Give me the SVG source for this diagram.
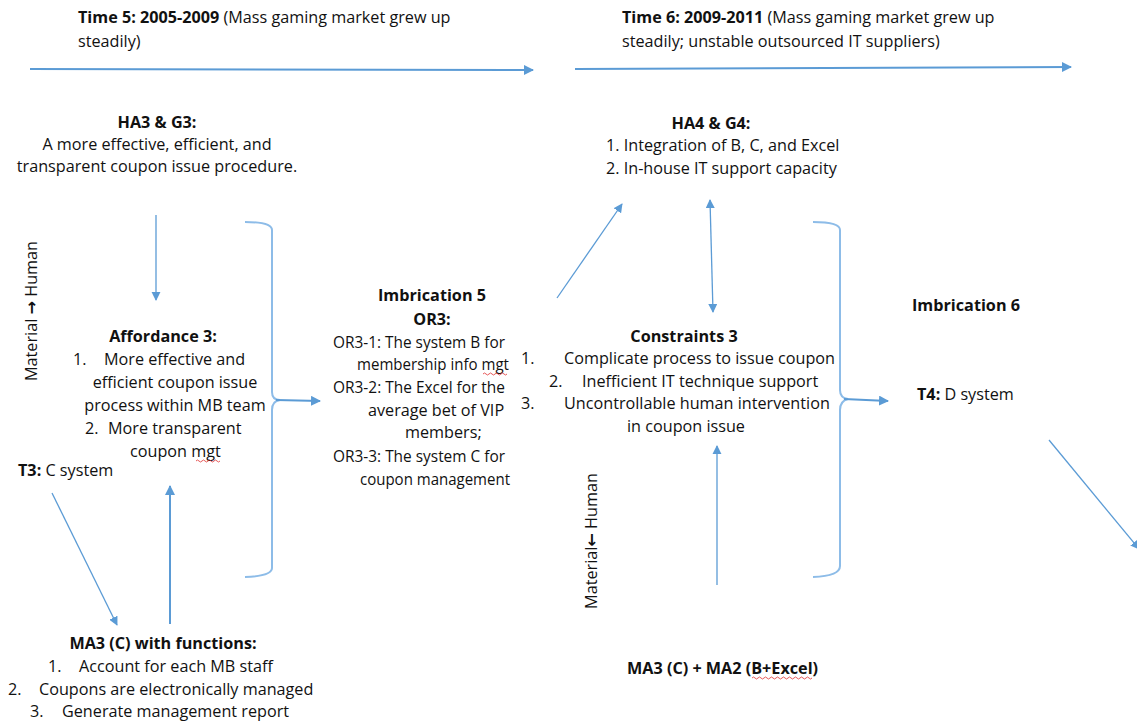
<svg xmlns="http://www.w3.org/2000/svg" width="1137" height="722" viewBox="0 0 1137 722">
<defs>
<marker id="ah" viewBox="0 0 10 10" refX="9" refY="5" markerWidth="5" markerHeight="5" orient="auto-start-reverse" markerUnits="strokeWidth">
<path d="M0,0 L10,5 L0,10 z" fill="#5B9BD5"/>
</marker>
<marker id="ahs" viewBox="0 0 10 10" refX="9" refY="5" markerWidth="7" markerHeight="7" orient="auto-start-reverse" markerUnits="strokeWidth">
<path d="M0,0 L10,5 L0,10 z" fill="#5B9BD5"/>
</marker>
</defs>
<style>
text{font-family:"Open Sans","Noto Sans","Liberation Sans",sans-serif;font-size:16.2px;fill:#111}
.b{font-weight:bold}
.m{text-anchor:middle}
.ar{font-family:"DejaVu Sans",sans-serif;font-weight:bold}
.ln{stroke:#5B9BD5;stroke-width:2;fill:none}
.th{stroke:#5B9BD5;stroke-width:1.3;fill:none}
.br{stroke:#8DBCE8;stroke-width:2;fill:none}
.sq{stroke:#E03030;stroke-width:0.8;fill:none}
</style>
<rect width="1137" height="722" fill="#fff"/>

<g id="time5">
<text x="78" y="23"><tspan class="b">Time 5: 2005-2009</tspan> (Mass gaming market grew up</text>
<text x="78" y="47">steadily)</text>
</g>
<g id="time6">
<text x="622" y="23"><tspan class="b">Time 6: 2009-2011</tspan> (Mass gaming market grew up</text>
<text x="622" y="47">steadily; unstable outsourced IT suppliers)</text>
</g>

<g id="ha3">
<text class="m b" x="157" y="128">HA3 &amp; G3:</text>
<text class="m" x="157" y="150">A more effective, efficient, and</text>
<text class="m" x="157" y="172">transparent coupon issue procedure.</text>
</g>

<g id="mat-human-1">
<text class="m" transform="translate(37,311) rotate(-90)">Material <tspan class="ar">→</tspan> Human</text>
</g>

<g id="affordance3">
<text class="m b" x="163" y="342">Affordance 3:</text>
<text x="73" y="365">1.</text>
<text x="104" y="365">More effective and</text>
<text class="m" x="175" y="388">efficient coupon issue</text>
<text class="m" x="175" y="411">process within MB team</text>
<text x="85" y="434">2.</text>
<text x="108" y="434">More transparent</text>
<text x="130" y="457">coupon mgt</text>
<path class="sq" d="M196,461 q1.5,-2 3,0 t3,0 t3,0 t3,0 t3,0 t3,0 t3,0 t3,0"/>
</g>

<g id="t3">
<text x="18" y="476"><tspan class="b">T3:</tspan> C system</text>
</g>

<g id="ma3">
<text class="m b" x="163" y="649">MA3 (C) with functions:</text>
<text x="48" y="672">1.</text>
<text x="79" y="672">Account for each MB staff</text>
<text x="8" y="695">2.</text>
<text x="39" y="695">Coupons are electronically managed</text>
<text x="30" y="717">3.</text>
<text x="62" y="717">Generate management report</text>
</g>

<g id="imbrication5">
<text class="m b" x="432" y="301">Imbrication 5</text>
<text class="m b" x="432" y="325">OR3:</text>
<text x="333" y="348" textLength="172" lengthAdjust="spacingAndGlyphs">OR3-1: The system B for</text>
<text x="357" y="370" textLength="152" lengthAdjust="spacingAndGlyphs">membership info mgt</text>
<path class="sq" d="M483,374 q1.5,-2 3,0 t3,0 t3,0 t3,0 t3,0 t3,0 t3,0 t3,0"/>
<text x="333" y="393" textLength="172" lengthAdjust="spacingAndGlyphs">OR3-2: The Excel for the</text>
<text x="368" y="416">average bet of VIP</text>
<text x="405" y="438">members;</text>
<text x="333" y="462" textLength="172" lengthAdjust="spacingAndGlyphs">OR3-3: The system C for</text>
<text x="360" y="485" textLength="150" lengthAdjust="spacingAndGlyphs">coupon management</text>
</g>

<g id="ha4">
<text class="m b" x="711" y="129">HA4 &amp; G4:</text>
<text x="606" y="151">1. Integration of B, C, and Excel</text>
<text x="606" y="174">2. In-house IT support capacity</text>
</g>

<g id="constraints3">
<text class="m b" x="684" y="342">Constraints  3</text>
<text x="521" y="364">1.</text>
<text x="564" y="364">Complicate process to issue coupon</text>
<text x="549" y="387">2.</text>
<text x="582" y="387">Inefficient IT technique support</text>
<text x="521" y="409">3.</text>
<text x="564" y="409">Uncontrollable human intervention</text>
<text class="m" x="686" y="432">in coupon issue</text>
</g>

<g id="mat-human-2">
<text class="m" transform="translate(597,541) rotate(-90)">Material<tspan class="ar">←</tspan> Human</text>
</g>

<g id="ma3ma2">
<text class="b" x="627" y="674">MA3 (C) + MA2 (B+Excel)</text>
<path class="sq" d="M752,678 q1.5,-2 3,0 t3,0 t3,0 t3,0 t3,0 t3,0 t3,0 t3,0 t3,0 t3,0 t3,0 t3,0 t3,0 t3,0 t3,0 t3,0 t3,0 t3,0 t3,0 t3,0"/>
</g>

<g id="imbrication6">
<text class="b" x="912" y="311">Imbrication 6</text>
</g>
<g id="t4">
<text x="917" y="400"><tspan class="b">T4:</tspan> D system</text>
</g>

<g id="connectors">
<path class="ln" d="M30,69 L533,70" marker-end="url(#ah)"/>
<path class="ln" d="M575,69 L1071,67" marker-end="url(#ah)"/>
<path class="th" d="M156,215 L156,300" marker-end="url(#ahs)"/>
<path class="th" d="M52,493 L117,625" marker-end="url(#ahs)"/>
<path class="ln" d="M170,624 L170,486" marker-end="url(#ah)"/>
<path class="br" d="M245,222 Q272,222 272,230 L272,392 Q272,400 280,400 Q272,401 272,410 L272,568 Q272,576 245,577"/>
<path class="ln" d="M276,400 L320,401" marker-end="url(#ah)"/>
<path class="th" d="M557,298 L622,204" marker-end="url(#ahs)"/>
<path class="th" d="M713,312 L710,200" marker-start="url(#ahs)" marker-end="url(#ahs)"/>
<path class="th" d="M717,585 L717,446" marker-end="url(#ahs)"/>
<path class="br" d="M813,222 Q840,222 840,230 L840,390 Q840,398 848,399 Q840,401 840,410 L840,566 Q840,576 813,577"/>
<path class="ln" d="M844,399 L888,401" marker-end="url(#ah)"/>
<path class="th" d="M1049,440 L1139,549" marker-end="url(#ahs)"/>
</g>
</svg>
